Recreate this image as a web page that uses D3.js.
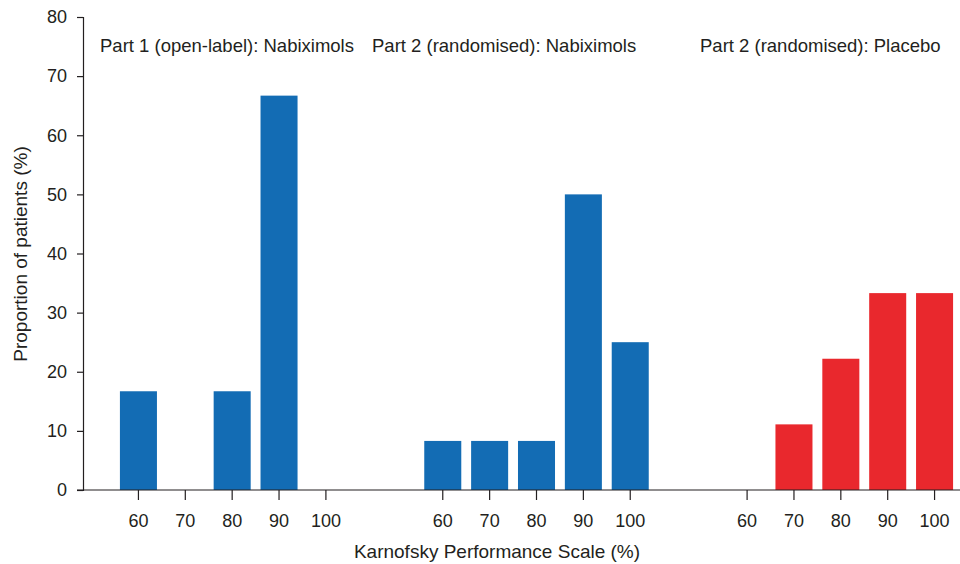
<!DOCTYPE html>
<html><head><meta charset="utf-8">
<script src="https://cdn.jsdelivr.net/npm/d3@7"></script>
<style>body{margin:0;background:#fff;} text{font-family:"Liberation Sans",Arial,sans-serif;fill:#231f20;}</style>
</head><body><svg id="c" width="960" height="564"></svg>
<script>
const groups = ["Part 1 (open-label): Nabiximols", "Part 2 (randomised): Nabiximols", "Part 2 (randomised): Placebo"];
const categories = ["60", "70", "80", "90", "100"];
const part1Nabiximols = [16.7, 0, 16.7, 66.7, 0];
const part2Nabiximols = [8.3, 8.3, 8.3, 50, 25];
const part2Placebo = [0, 11.1, 22.2, 33.3, 33.3];
const seriesValues = [part1Nabiximols, part2Nabiximols, part2Placebo];
const groupColors = ["#136cb4", "#136cb4", "#e9282d"];
const yTicks = [0, 10, 20, 30, 40, 50, 60, 70, 80];

const svg = d3.select("#c");
const y = d3.scaleLinear().domain([0, 80]).range([490, 17]);
const x0 = d3.scaleBand().domain(groups).range([115, 958]).paddingInner(0.23).paddingOuter(0);
const x1 = d3.scaleBand().domain(categories).range([0, x0.bandwidth()]).paddingInner(0.21).paddingOuter(0.105);

const data = [];
groups.forEach((g, gi) => categories.forEach((c, ci) => data.push({g, c, v: seriesValues[gi][ci], color: groupColors[gi]})));

svg.append("g").selectAll("rect").data(data).join("rect")
  .attr("x", d => x0(d.g) + x1(d.c))
  .attr("width", x1.bandwidth())
  .attr("y", d => y(d.v))
  .attr("height", d => y(0) - y(d.v))
  .attr("fill", d => d.color);

// y axis
const ya = svg.append("g").attr("transform", "translate(83,0)")
  .call(d3.axisLeft(y).tickValues(yTicks).tickSize(6).tickPadding(10));
ya.select(".domain").attr("stroke", "#231f20").attr("stroke-width", 1.2);
ya.selectAll(".tick line").attr("stroke", "#231f20").attr("stroke-width", 1.2);
ya.selectAll("text").attr("font-size", 18).style("font-family", "Liberation Sans, Arial, sans-serif").attr("fill", "#231f20");

// x axis line
svg.append("line").attr("x1", 77).attr("x2", 960).attr("y1", y(0)).attr("y2", y(0)).attr("stroke", "#231f20").attr("stroke-width", 1.2);

groups.forEach((g, gi) => {
  const xa = svg.append("g").attr("transform", `translate(${x0(g)},${y(0)})`)
    .call(d3.axisBottom(x1).tickSize(10).tickPadding(14));
  xa.select(".domain").remove();
  xa.selectAll(".tick line").attr("stroke", "#231f20").attr("stroke-width", 1.2);
  xa.selectAll("text").attr("font-size", 18).style("font-family", "Liberation Sans, Arial, sans-serif").attr("fill", "#231f20");
});

// group labels
const labelX = [100, 372, 700];
svg.append("g").selectAll("text").data(groups).join("text")
  .attr("x", (d, i) => labelX[i]).attr("y", 52)
  .attr("font-size", 18.5).text(d => d);

svg.append("text").attr("x", 497).attr("y", 558).attr("text-anchor", "middle").attr("font-size", 19)
  .text("Karnofsky Performance Scale (%)");
svg.append("text").attr("transform", "translate(27,254) rotate(-90)").attr("text-anchor", "middle").attr("font-size", 19)
  .text("Proportion of patients (%)");
</script></body></html>
